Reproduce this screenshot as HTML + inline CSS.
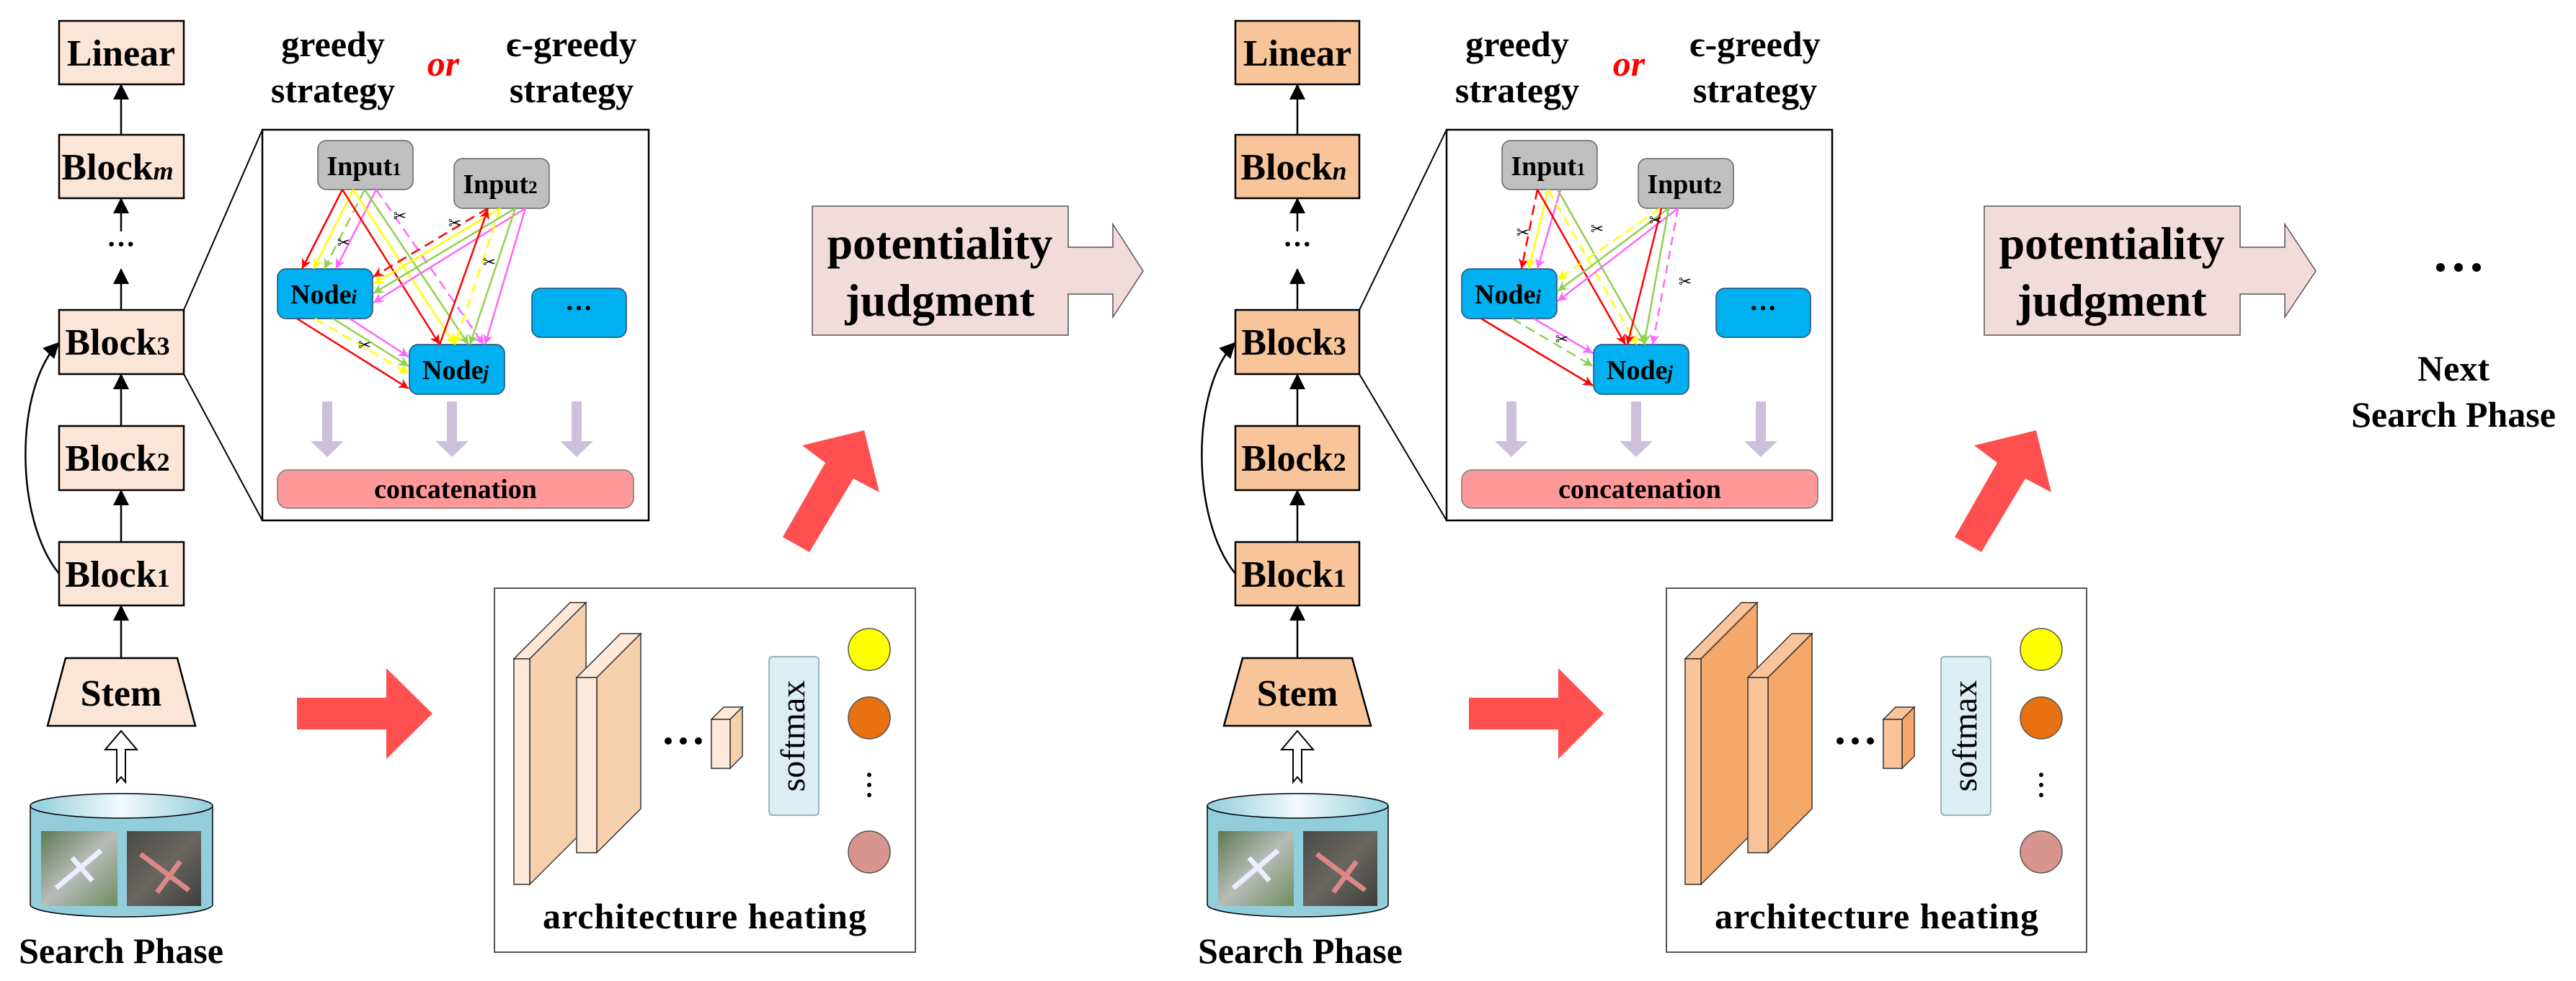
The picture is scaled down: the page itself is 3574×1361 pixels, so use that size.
<!DOCTYPE html>
<html><head><meta charset="utf-8"><style>
html,body{margin:0;padding:0;background:#fff;}
svg{display:block;font-family:"Liberation Serif","DejaVu Serif",serif;}
svg text, svg tspan{font-family:"Liberation Serif","DejaVu Serif",serif;}
.b{font-weight:bold;}
svg text.sc{font-family:"DejaVu Sans",sans-serif;}
</style></head><body>
<svg width="3574" height="1361" viewBox="0 0 3574 1361" xmlns="http://www.w3.org/2000/svg" font-family="Liberation Serif, DejaVu Serif, serif">
<defs>
<marker id="mr" markerWidth="14" markerHeight="14" refX="10" refY="5" orient="auto" markerUnits="userSpaceOnUse" viewBox="0 0 10 10"><path d="M0,0L10,5L0,10L3,5z" fill="#ff0000"/></marker>
<marker id="my" markerWidth="14" markerHeight="14" refX="10" refY="5" orient="auto" markerUnits="userSpaceOnUse" viewBox="0 0 10 10"><path d="M0,0L10,5L0,10L3,5z" fill="#ffff00"/></marker>
<marker id="mg" markerWidth="14" markerHeight="14" refX="10" refY="5" orient="auto" markerUnits="userSpaceOnUse" viewBox="0 0 10 10"><path d="M0,0L10,5L0,10L3,5z" fill="#92d050"/></marker>
<marker id="mp" markerWidth="14" markerHeight="14" refX="10" refY="5" orient="auto" markerUnits="userSpaceOnUse" viewBox="0 0 10 10"><path d="M0,0L10,5L0,10L3,5z" fill="#ff66ff"/></marker>
<marker id="ah" markerWidth="22" markerHeight="26" refX="20" refY="11" orient="auto" markerUnits="userSpaceOnUse" viewBox="0 0 22 22"><path d="M0,0L22,11L0,22z" fill="#000"/></marker>
<linearGradient id="cyl" x1="0" y1="0" x2="1" y2="0"><stop offset="0" stop-color="#92cddc"/><stop offset="0.5" stop-color="#f2fafc"/><stop offset="1" stop-color="#92cddc"/></linearGradient>
<linearGradient id="img1" x1="0" y1="0" x2="1" y2="1"><stop offset="0" stop-color="#5c7a52"/><stop offset="0.5" stop-color="#b8bcb8"/><stop offset="1" stop-color="#6d8d5e"/></linearGradient>
<linearGradient id="img2" x1="0" y1="0" x2="1" y2="1"><stop offset="0" stop-color="#4a4a48"/><stop offset="0.5" stop-color="#6a6660"/><stop offset="1" stop-color="#3e3e3c"/></linearGradient>
</defs>

<!-- ================= PHASE 1 ================= -->
<g fill="#fbe5d6" stroke="#000" stroke-width="2.5">
<rect x="82" y="29" width="173" height="88"/>
<rect x="82" y="187" width="173" height="88"/>
<rect x="82" y="430" width="173" height="89"/>
<rect x="82" y="591" width="173" height="89"/>
<rect x="82" y="752" width="173" height="88"/>
<polygon points="91,913 246,913 271,1007 66,1007"/>
</g>
<g class="b" font-weight="bold" font-size="52" text-anchor="middle">
<text x="168" y="91">Linear</text>
<text x="163" y="249">Block<tspan font-style="italic" font-size="36">m</tspan></text>
<text x="163" y="492">Block<tspan font-size="36">3</tspan></text>
<text x="163" y="653">Block<tspan font-size="36">2</tspan></text>
<text x="163" y="814">Block<tspan font-size="36">1</tspan></text>
<text x="168" y="979">Stem</text>
</g>
<g stroke="#000" stroke-width="2.5" fill="none">
<line x1="168" y1="187" x2="168" y2="118" marker-end="url(#ah)"/>
<line x1="168" y1="321" x2="168" y2="276" marker-end="url(#ah)"/>
<line x1="168" y1="430" x2="168" y2="374" marker-end="url(#ah)"/>
<line x1="168" y1="591" x2="168" y2="520" marker-end="url(#ah)"/>
<line x1="168" y1="752" x2="168" y2="681" marker-end="url(#ah)"/>
<line x1="168" y1="913" x2="168" y2="841" marker-end="url(#ah)"/>
<path d="M82,796 C20,720 20,540 81,476" marker-end="url(#ah)"/>
</g>
<text x="168" y="352" font-size="40" text-anchor="middle" font-weight="bold">···</text>
<polygon points="168,1014 190,1040 174,1040 174,1085 168,1078 162,1085 162,1040 146,1040" fill="#fff" stroke="#000" stroke-width="2"/>
<path d="M42,1118 L42,1255 A126.5,17 0 0 0 295,1255 L295,1118 z" fill="#92cddc" stroke="#000" stroke-width="1.5"/>
<ellipse cx="168.5" cy="1118" rx="126.5" ry="17" fill="url(#cyl)" stroke="#000" stroke-width="1.5"/>
<rect x="57" y="1153" width="106" height="104" fill="url(#img1)"/>
<rect x="176" y="1153" width="103" height="104" fill="url(#img2)"/>
<path d="M78,1232 L140,1180 M100,1190 L128,1222" stroke="#eef" stroke-width="7"/>
<path d="M195,1185 L262,1235 M218,1238 L250,1195" stroke="#d88" stroke-width="7"/>
<text x="168" y="1336" font-size="50" font-weight="bold" text-anchor="middle">Search Phase</text>

<g font-weight="bold" font-size="50" text-anchor="middle">
<text x="462" y="78">greedy</text><text x="462" y="142">strategy</text>
<text x="793" y="78">ϵ-greedy</text><text x="793" y="142">strategy</text>
</g>
<text x="615" y="105" font-size="50" font-style="italic" font-weight="bold" fill="#ff0000" text-anchor="middle">or</text>

<line x1="255" y1="430" x2="364" y2="180" stroke="#000" stroke-width="2"/>
<line x1="255" y1="519" x2="364" y2="722" stroke="#000" stroke-width="2"/>
<rect x="364" y="180" width="536" height="542" fill="#fff" stroke="#000" stroke-width="2.5"/>

<g>
<rect x="441" y="195" width="132" height="68" rx="12" fill="#bfbfbf" stroke="#666" stroke-width="1.5"/>
<rect x="630" y="220" width="132" height="69" rx="12" fill="#bfbfbf" stroke="#666" stroke-width="1.5"/>
<rect x="385" y="373" width="132" height="69" rx="12" fill="#00b0f0" stroke="#1f4e79" stroke-width="1.5"/>
<rect x="568" y="478" width="132" height="69" rx="12" fill="#00b0f0" stroke="#1f4e79" stroke-width="1.5"/>
<rect x="738" y="400" width="131" height="68" rx="12" fill="#00b0f0" stroke="#1f4e79" stroke-width="1.5"/>
<g font-weight="bold" font-size="38" text-anchor="middle">
<text x="505" y="243">Input<tspan font-size="25">1</tspan></text>
<text x="694" y="268">Input<tspan font-size="25">2</tspan></text>
<text x="449" y="421">Node<tspan font-size="27" font-style="italic">i</tspan></text>
<text x="632" y="526">Node<tspan font-size="27" font-style="italic">j</tspan></text>
<text x="803" y="440">···</text>
</g>
<g fill="none" stroke-width="2.5">
<line x1="475" y1="263" x2="419" y2="373" stroke="#ff0000" marker-end="url(#mr)"/>
<line x1="490" y1="263" x2="435" y2="373" stroke="#ffff00" marker-end="url(#my)"/>
<line x1="506" y1="263" x2="450" y2="373" stroke="#92d050" stroke-dasharray="14,8" marker-end="url(#mg)"/>
<line x1="522" y1="263" x2="466" y2="373" stroke="#ff66ff" marker-end="url(#mp)"/>
<line x1="475" y1="263" x2="610" y2="478" stroke="#ff0000" marker-end="url(#mr)"/>
<line x1="490" y1="263" x2="631" y2="478" stroke="#ffff00" marker-end="url(#my)"/>
<line x1="506" y1="263" x2="650" y2="478" stroke="#92d050" marker-end="url(#mg)"/>
<line x1="522" y1="263" x2="671" y2="478" stroke="#ff66ff" stroke-dasharray="14,8" marker-end="url(#mp)"/>
<line x1="677" y1="289" x2="518" y2="384" stroke="#ff0000" stroke-dasharray="14,8" marker-end="url(#mr)"/>
<line x1="694" y1="289" x2="518" y2="394" stroke="#ffff00" marker-end="url(#my)"/>
<line x1="715" y1="289" x2="518" y2="407" stroke="#92d050" marker-end="url(#mg)"/>
<line x1="729" y1="289" x2="518" y2="420" stroke="#ff66ff" marker-end="url(#mp)"/>
<line x1="610" y1="478" x2="677" y2="290" stroke="#ff0000" marker-end="url(#mr)"/>
<line x1="694" y1="289" x2="631" y2="478" stroke="#ffff00" stroke-dasharray="14,8" marker-end="url(#my)"/>
<line x1="715" y1="289" x2="652" y2="478" stroke="#92d050" marker-end="url(#mg)"/>
<line x1="729" y1="289" x2="673" y2="478" stroke="#ff66ff" marker-end="url(#mp)"/>
<line x1="412" y1="442" x2="567" y2="539" stroke="#ff0000" marker-end="url(#mr)"/>
<line x1="437" y1="442" x2="567" y2="518" stroke="#ffff00" stroke-dasharray="14,8" marker-end="url(#my)"/>
<line x1="462" y1="442" x2="567" y2="508" stroke="#92d050" marker-end="url(#mg)"/>
<line x1="485" y1="442" x2="567" y2="495" stroke="#ff66ff" marker-end="url(#mp)"/>
</g>
<g font-size="22" text-anchor="middle">
<text class="sc" x="555" y="307">✂</text><text class="sc" x="477" y="344">✂</text><text class="sc" x="631" y="317">✂</text><text class="sc" x="679" y="371">✂</text><text class="sc" x="506" y="486">✂</text>
</g>
<g fill="#ccc0da">
<polygon points="447,557 461,557 461,612 477,612 454,634 431,612 447,612"/>
<polygon points="620,557 634,557 634,612 650,612 627,634 604,612 620,612"/>
<polygon points="793,557 807,557 807,612 823,612 800,634 777,612 793,612"/>
</g>
<rect x="385" y="652" width="494" height="53" rx="14" fill="#ff9999" stroke="#777" stroke-width="1.5"/>
<text x="632" y="691" font-size="38" font-weight="bold" text-anchor="middle">concatenation</text>
</g>

<polygon points="412,968 536,968 536,927 600,990 536,1053 536,1012 412,1012" fill="#ff5050"/>
<rect x="686" y="816" width="584" height="505" fill="#fff" stroke="#555" stroke-width="2"/>
<g stroke="#333" stroke-width="1.5">
<polygon points="713,914 791,836 813,836 735,914" fill="#fde9d9"/>
<polygon points="735,914 813,836 813,1149 735,1227" fill="#f7d0ad"/>
<rect x="713" y="914" width="22" height="313" fill="#fde9d9"/>
<polygon points="800,940 861,879 889,879 828,940" fill="#fde9d9"/>
<polygon points="828,940 889,879 889,1122 828,1183" fill="#f7d0ad"/>
<rect x="800" y="940" width="28" height="243" fill="#fde9d9"/>
<polygon points="987,998 1004,981 1030,981 1013,998" fill="#fde9d9"/>
<polygon points="1013,998 1030,981 1030,1049 1013,1066" fill="#f7d0ad"/>
<rect x="987" y="998" width="26" height="68" fill="#fde9d9"/>
</g>
<g fill="#000"><circle cx="927" cy="1028" r="5"/><circle cx="948" cy="1028" r="5"/><circle cx="969" cy="1028" r="5"/></g>
<rect x="1067" y="911" width="69" height="220" rx="5" fill="#daeef3" stroke="#7f9fa8" stroke-width="1.5"/>
<text transform="translate(1116,1021) rotate(-90)" font-size="48" text-anchor="middle">softmax</text>
<circle cx="1206" cy="901" r="29" fill="#ffff00" stroke="#555" stroke-width="1.5"/>
<circle cx="1206" cy="996" r="29" fill="#e87111" stroke="#555" stroke-width="1.5"/>
<circle cx="1206" cy="1182" r="29" fill="#d8948f" stroke="#555" stroke-width="1.5"/>
<g fill="#000"><circle cx="1206" cy="1075" r="3"/><circle cx="1206" cy="1089" r="3"/><circle cx="1206" cy="1103" r="3"/></g>
<text x="978" y="1288" font-size="50" font-weight="bold" text-anchor="middle" letter-spacing="1">architecture heating</text>
<polygon points="1086,745 1145,642 1113,618 1199,597 1220,683 1184,664 1123,766" fill="#ff5050"/>
<path d="M1127,286 L1482,286 L1482,343 L1544,343 L1544,311 L1586,376 L1544,440 L1544,408 L1482,408 L1482,465 L1127,465 z" fill="#f2dcdb" stroke="#555" stroke-width="1.5"/>
<g font-weight="bold" font-size="64" text-anchor="middle"><text x="1304" y="359">potentiality</text><text x="1304" y="438">judgment</text></g>

<!-- ================= PHASE 2 ================= -->
<g fill="#f8c49a" stroke="#000" stroke-width="2.5">
<rect x="1714" y="29" width="172" height="88"/>
<rect x="1714" y="187" width="172" height="88"/>
<rect x="1714" y="430" width="172" height="89"/>
<rect x="1714" y="591" width="172" height="89"/>
<rect x="1714" y="752" width="172" height="88"/>
<polygon points="1724,913 1876,913 1902,1007 1698,1007"/>
</g>
<g font-weight="bold" font-size="52" text-anchor="middle">
<text x="1800" y="91">Linear</text>
<text x="1795" y="249">Block<tspan font-style="italic" font-size="36">n</tspan></text>
<text x="1795" y="492">Block<tspan font-size="36">3</tspan></text>
<text x="1795" y="653">Block<tspan font-size="36">2</tspan></text>
<text x="1795" y="814">Block<tspan font-size="36">1</tspan></text>
<text x="1800" y="979">Stem</text>
</g>
<g stroke="#000" stroke-width="2.5" fill="none">
<line x1="1800" y1="187" x2="1800" y2="118" marker-end="url(#ah)"/>
<line x1="1800" y1="321" x2="1800" y2="276" marker-end="url(#ah)"/>
<line x1="1800" y1="430" x2="1800" y2="374" marker-end="url(#ah)"/>
<line x1="1800" y1="591" x2="1800" y2="520" marker-end="url(#ah)"/>
<line x1="1800" y1="752" x2="1800" y2="681" marker-end="url(#ah)"/>
<line x1="1800" y1="913" x2="1800" y2="841" marker-end="url(#ah)"/>
<path d="M1714,796 C1652,720 1652,540 1713,476" marker-end="url(#ah)"/>
</g>
<text x="1800" y="352" font-size="40" text-anchor="middle" font-weight="bold">···</text>
<polygon points="1800,1014 1822,1040 1806,1040 1806,1085 1800,1078 1794,1085 1794,1040 1778,1040" fill="#fff" stroke="#000" stroke-width="2"/>
<path d="M1675,1118 L1675,1255 A125.5,17 0 0 0 1926,1255 L1926,1118 z" fill="#92cddc" stroke="#000" stroke-width="1.5"/>
<ellipse cx="1800.5" cy="1118" rx="125.5" ry="17" fill="url(#cyl)" stroke="#000" stroke-width="1.5"/>
<rect x="1690" y="1153" width="105" height="104" fill="url(#img1)"/>
<rect x="1808" y="1153" width="103" height="104" fill="url(#img2)"/>
<path d="M1711,1232 L1773,1180 M1733,1190 L1761,1222" stroke="#eef" stroke-width="7"/>
<path d="M1827,1185 L1894,1235 M1850,1238 L1882,1195" stroke="#d88" stroke-width="7"/>
<text x="1804" y="1336" font-size="50" font-weight="bold" text-anchor="middle">Search Phase</text>

<g font-weight="bold" font-size="50" text-anchor="middle">
<text x="2105" y="78">greedy</text><text x="2105" y="142">strategy</text>
<text x="2435" y="78">ϵ-greedy</text><text x="2435" y="142">strategy</text>
</g>
<text x="2260" y="105" font-size="50" font-style="italic" font-weight="bold" fill="#ff0000" text-anchor="middle">or</text>
<line x1="1886" y1="430" x2="2007" y2="180" stroke="#000" stroke-width="2"/>
<line x1="1886" y1="519" x2="2007" y2="722" stroke="#000" stroke-width="2"/>
<rect x="2007" y="180" width="535" height="542" fill="#fff" stroke="#000" stroke-width="2.5"/>

<g transform="translate(1643,0)">
<rect x="441" y="195" width="132" height="68" rx="12" fill="#bfbfbf" stroke="#666" stroke-width="1.5"/>
<rect x="630" y="220" width="132" height="69" rx="12" fill="#bfbfbf" stroke="#666" stroke-width="1.5"/>
<rect x="385" y="373" width="132" height="69" rx="12" fill="#00b0f0" stroke="#1f4e79" stroke-width="1.5"/>
<rect x="568" y="478" width="132" height="69" rx="12" fill="#00b0f0" stroke="#1f4e79" stroke-width="1.5"/>
<rect x="738" y="400" width="131" height="68" rx="12" fill="#00b0f0" stroke="#1f4e79" stroke-width="1.5"/>
<g font-weight="bold" font-size="38" text-anchor="middle">
<text x="505" y="243">Input<tspan font-size="25">1</tspan></text>
<text x="694" y="268">Input<tspan font-size="25">2</tspan></text>
<text x="449" y="421">Node<tspan font-size="27" font-style="italic">i</tspan></text>
<text x="632" y="526">Node<tspan font-size="27" font-style="italic">j</tspan></text>
<text x="803" y="440">···</text>
</g>
<g fill="none" stroke-width="2.5">
<line x1="490" y1="263" x2="468" y2="373" stroke="#ff0000" stroke-dasharray="14,8" marker-end="url(#mr)"/>
<line x1="505" y1="263" x2="478" y2="373" stroke="#ffff00" marker-end="url(#my)"/>
<line x1="522" y1="263" x2="490" y2="373" stroke="#ff66ff" marker-end="url(#mp)"/>
<line x1="490" y1="263" x2="612" y2="478" stroke="#ff0000" marker-end="url(#mr)"/>
<line x1="505" y1="263" x2="628" y2="478" stroke="#ffff00" stroke-dasharray="14,8" marker-end="url(#my)"/>
<line x1="518" y1="263" x2="640" y2="478" stroke="#92d050" marker-end="url(#mg)"/>
<line x1="660" y1="289" x2="518" y2="388" stroke="#ffff00" stroke-dasharray="14,8" marker-end="url(#my)"/>
<line x1="672" y1="289" x2="518" y2="404" stroke="#92d050" marker-end="url(#mg)"/>
<line x1="685" y1="289" x2="518" y2="418" stroke="#ff66ff" marker-end="url(#mp)"/>
<line x1="662" y1="289" x2="615" y2="478" stroke="#ff0000" marker-end="url(#mr)"/>
<line x1="672" y1="289" x2="638" y2="478" stroke="#92d050" marker-end="url(#mg)"/>
<line x1="685" y1="289" x2="650" y2="478" stroke="#ff66ff" stroke-dasharray="12,8" marker-end="url(#mp)"/>
<line x1="412" y1="442" x2="567" y2="535" stroke="#ff0000" marker-end="url(#mr)"/>
<line x1="455" y1="442" x2="567" y2="508" stroke="#92d050" stroke-dasharray="14,8" marker-end="url(#mg)"/>
<line x1="485" y1="442" x2="567" y2="490" stroke="#ff66ff" marker-end="url(#mp)"/>
</g>
<g font-size="22" text-anchor="middle">
<text class="sc" x="470" y="330">✂</text><text class="sc" x="573" y="325">✂</text><text class="sc" x="654" y="313">✂</text><text class="sc" x="695" y="398">✂</text><text class="sc" x="524" y="478">✂</text>
</g>
<g fill="#ccc0da">
<polygon points="447,557 461,557 461,612 477,612 454,634 431,612 447,612"/>
<polygon points="620,557 634,557 634,612 650,612 627,634 604,612 620,612"/>
<polygon points="793,557 807,557 807,612 823,612 800,634 777,612 793,612"/>
</g>
<rect x="385" y="652" width="494" height="53" rx="14" fill="#ff9999" stroke="#777" stroke-width="1.5"/>
<text x="632" y="691" font-size="38" font-weight="bold" text-anchor="middle">concatenation</text>
</g>

<polygon points="2038,968 2162,968 2162,927 2225,990 2162,1053 2162,1012 2038,1012" fill="#ff5050"/>
<rect x="2312" y="816" width="583" height="505" fill="#fff" stroke="#555" stroke-width="2"/>
<g stroke="#333" stroke-width="1.5">
<polygon points="2338,914 2416,836 2438,836 2360,914" fill="#f9c49a"/>
<polygon points="2360,914 2438,836 2438,1149 2360,1227" fill="#f4a96a"/>
<rect x="2338" y="914" width="22" height="313" fill="#f9c49a"/>
<polygon points="2425,940 2486,879 2514,879 2453,940" fill="#f9c49a"/>
<polygon points="2453,940 2514,879 2514,1122 2453,1183" fill="#f4a96a"/>
<rect x="2425" y="940" width="28" height="243" fill="#f9c49a"/>
<polygon points="2613,998 2630,981 2656,981 2639,998" fill="#f9c49a"/>
<polygon points="2639,998 2656,981 2656,1049 2639,1066" fill="#f4a96a"/>
<rect x="2613" y="998" width="26" height="68" fill="#f9c49a"/>
</g>
<g fill="#000"><circle cx="2553" cy="1028" r="5"/><circle cx="2574" cy="1028" r="5"/><circle cx="2595" cy="1028" r="5"/></g>
<rect x="2693" y="911" width="69" height="220" rx="5" fill="#daeef3" stroke="#7f9fa8" stroke-width="1.5"/>
<text transform="translate(2742,1021) rotate(-90)" font-size="48" text-anchor="middle">softmax</text>
<circle cx="2832" cy="901" r="29" fill="#ffff00" stroke="#555" stroke-width="1.5"/>
<circle cx="2832" cy="996" r="29" fill="#e87111" stroke="#555" stroke-width="1.5"/>
<circle cx="2832" cy="1182" r="29" fill="#d8948f" stroke="#555" stroke-width="1.5"/>
<g fill="#000"><circle cx="2832" cy="1075" r="3"/><circle cx="2832" cy="1089" r="3"/><circle cx="2832" cy="1103" r="3"/></g>
<text x="2604" y="1288" font-size="50" font-weight="bold" text-anchor="middle" letter-spacing="1">architecture heating</text>
<polygon points="2712,745 2771,642 2739,618 2825,597 2846,683 2810,664 2749,766" fill="#ff5050"/>
<path d="M2753,286 L3108,286 L3108,343 L3170,343 L3170,311 L3213,376 L3170,440 L3170,408 L3108,408 L3108,465 L2753,465 z" fill="#f2dcdb" stroke="#555" stroke-width="1.5"/>
<g font-weight="bold" font-size="64" text-anchor="middle"><text x="2930" y="359">potentiality</text><text x="2930" y="438">judgment</text></g>

<g fill="#000"><circle cx="3386" cy="371" r="6"/><circle cx="3411" cy="371" r="6"/><circle cx="3436" cy="371" r="6"/></g>
<g font-weight="bold" font-size="50" text-anchor="middle"><text x="3404" y="528">Next</text><text x="3404" y="592">Search Phase</text></g>
</svg>
</body></html>
